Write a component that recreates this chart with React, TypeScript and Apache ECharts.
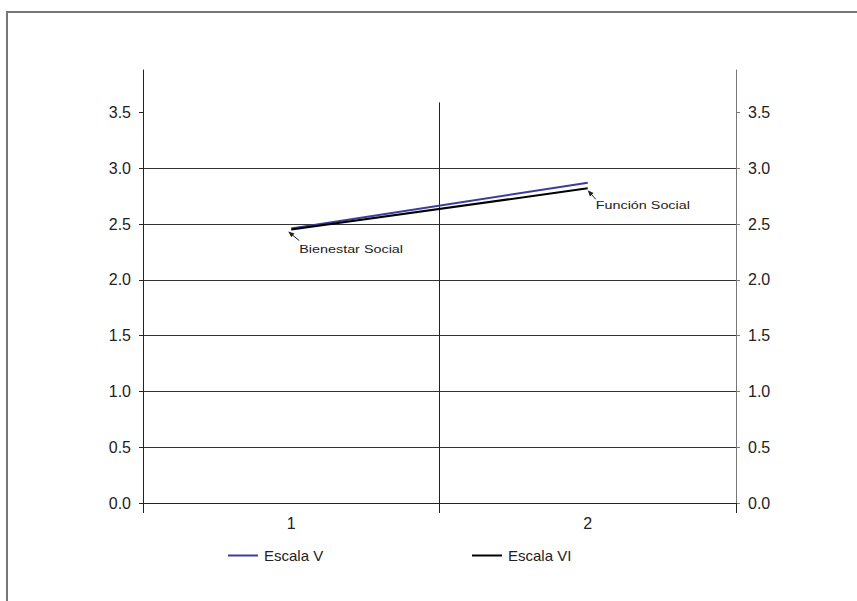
import React, { useEffect, useRef } from "react";
import * as echarts from "echarts";

const categories = ["1", "2"];
const seriesNames = ["Escala V", "Escala VI"];
const escalaV = [2.46, 2.87];
const escalaVI = [2.45, 2.82];
const yTicks = [0, 0.5, 1, 1.5, 2, 2.5, 3, 3.5];
const yMax = 3.88;
const annotationLabels = ["Bienestar Social", "Función Social"];

export default function App() {
  const ref = useRef<HTMLDivElement>(null);
  useEffect(() => {
    document.body.style.margin = "0";
    const chart = echarts.init(ref.current!, null, { renderer: "svg" });
    const font = '"Liberation Sans", Arial, Helvetica, sans-serif';
    const txt = "#222";
    const yAxisBase = (pos: "left" | "right", lineColor: string, split: boolean) => ({
      type: "value",
      position: pos,
      min: 0,
      max: yMax,
      interval: 0.5,
      axisLine: { show: true, lineStyle: { color: lineColor, width: 1 } },
      axisTick: {
        show: true,
        length: 4,
        customValues: yTicks,
        lineStyle: { color: lineColor },
      },
      axisLabel: {
        customValues: yTicks,
        margin: 12,
        color: txt,
        fontFamily: font,
        fontSize: 16,
        formatter: (v: number) => v.toFixed(1),
      },
      splitLine: split
        ? { show: true, showMaxLine: false, lineStyle: { color: "#333", width: 1 } }
        : { show: false },
    });
    const legendBase = {
      top: 548,
      padding: 0,
      itemWidth: 30,
      itemHeight: 2,
      itemGap: 6,
      textStyle: { color: txt, fontSize: 15, fontFamily: font, padding: [0, 0, 0, 1] },
    };
    chart.setOption({
      animation: false,
      backgroundColor: "#fff",
      textStyle: { fontFamily: font },
      grid: { left: 143, right: 121, top: 70, bottom: 98, containLabel: false },
      legend: [
        { ...legendBase, left: 228, data: [{ name: seriesNames[0], icon: "rect" }] },
        { ...legendBase, left: 472, data: [{ name: seriesNames[1], icon: "rect" }] },
      ],
      xAxis: {
        type: "category",
        data: categories,
        boundaryGap: true,
        axisLine: { show: true, lineStyle: { color: "#222", width: 1 } },
        axisTick: { show: true, length: 10, interval: 0, lineStyle: { color: "#222" } },
        axisLabel: { margin: 12, color: txt, fontSize: 16, fontFamily: font },
        splitLine: { show: false },
      },
      yAxis: [yAxisBase("left", "#222", true), yAxisBase("right", "#777", false)],
      series: [
        {
          name: seriesNames[0],
          type: "line",
          data: escalaV,
          symbol: "none",
          lineStyle: { color: "#3c3c9c", width: 2 },
          itemStyle: { color: "#3c3c9c" },
          z: 3,
        },
        {
          name: seriesNames[1],
          type: "line",
          data: escalaVI,
          symbol: "none",
          lineStyle: { color: "#000", width: 2 },
          itemStyle: { color: "#000" },
          z: 4,
        },
      ],
    });

    const p0 = chart.convertToPixel({ xAxisIndex: 0, yAxisIndex: 0 }, [0, 0]) as number[];
    const p1 = chart.convertToPixel({ xAxisIndex: 0, yAxisIndex: 0 }, [1, 0]) as number[];
    const top35 = chart.convertToPixel({ yAxisIndex: 0 }, yTicks[yTicks.length - 1]) as number;
    const midX = (p0[0] + p1[0]) / 2;
    const graphics: any[] = [
      {
        type: "rect",
        shape: { x: 7, y: 12, width: 900, height: 700 },
        style: { fill: "none", stroke: "#777", lineWidth: 2 },
        z: 0,
        silent: true,
      },
      {
        type: "line",
        shape: { x1: midX, y1: top35 - 10, x2: midX, y2: p0[1] },
        style: { stroke: "#222", lineWidth: 1 },
        z: 1,
      },
    ];
    annotationLabels.forEach((label, i) => {
      const pt = chart.convertToPixel({ xAxisIndex: 0, yAxisIndex: 0 }, [i, escalaVI[i]]) as number[];
      const hx = pt[0] - (i === 0 ? 3 : 0);
      const hy = pt[1] + 2;
      const tx = pt[0] + 8;
      const ty = pt[1] + 11;
      const dx = hx - tx;
      const dy = hy - ty;
      const len = Math.sqrt(dx * dx + dy * dy);
      const ux = dx / len;
      const uy = dy / len;
      const nx = -uy;
      const ny = ux;
      graphics.push({
        type: "line",
        shape: { x1: tx, y1: ty, x2: hx - ux * 3, y2: hy - uy * 3 },
        style: { stroke: "#222", lineWidth: 1 },
        z: 10,
      });
      graphics.push({
        type: "polygon",
        shape: {
          points: [
            [hx, hy],
            [hx - ux * 6 + nx * 2.5, hy - uy * 6 + ny * 2.5],
            [hx - ux * 6 - nx * 2.5, hy - uy * 6 - ny * 2.5],
          ],
        },
        style: { fill: "#222" },
        z: 10,
      });
      graphics.push({
        type: "text",
        x: pt[0] + 8,
        y: pt[1] + (i === 0 ? 19 : 17),
        scaleX: 1.25,
        style: {
          x: 0,
          y: 0,
          text: label,
          fontSize: 11.5,
          fontFamily: font,
          fill: txt,
          verticalAlign: "middle",
        },
        z: 10,
      });
    });
    chart.setOption({ graphic: graphics });
    return () => chart.dispose();
  }, []);
  return <div ref={ref} style={{ width: 857, height: 601 }} />;
}
